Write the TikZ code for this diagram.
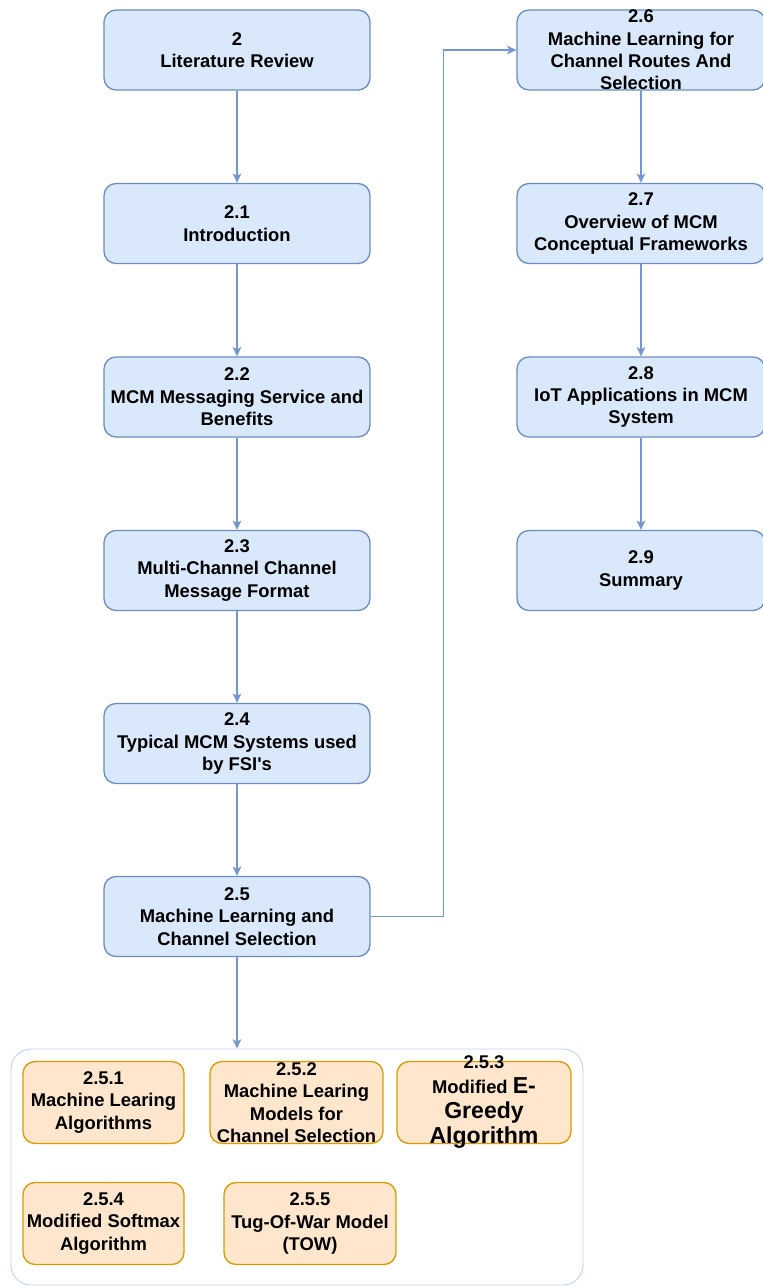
\documentclass[tikz,border=0pt]{standalone}
\usepackage{fontspec}
\setmainfont{Liberation Sans}
\usetikzlibrary{arrows.meta}
\definecolor{bfill}{HTML}{DAE8FC}
\definecolor{bline}{HTML}{6C8EBF}
\definecolor{eline}{HTML}{7597CC}
\definecolor{ofill}{HTML}{FFE6CC}
\definecolor{oline}{HTML}{D79B00}
\definecolor{gline}{HTML}{BFD2F0}
\newcommand{\bigtxt}{\fontsize{17.3}{18.75}\selectfont}

\begin{document}
\begin{tikzpicture}[x=0.75pt,y=-0.75pt,
  bluebox/.style={draw=bline, fill=bfill, line width=1pt, rounded corners=9pt,
    minimum width=199.5pt, minimum height=60pt, inner sep=0pt},
  rbluebox/.style={bluebox, minimum width=186pt},
  orbox/.style={draw=oline, fill=ofill, line width=1pt, rounded corners=9pt,
    minimum height=61.5pt, inner sep=0pt},
  groupbox/.style={draw=gline, line width=0.7pt, rounded corners=15pt,
    minimum width=429pt, minimum height=177pt, inner sep=0pt},
  txt/.style={align=center, inner sep=0pt,
    font=\bfseries\fontsize{13.8}{16.8}\selectfont},
  arr/.style={draw=eline, line width=0.9pt,
    -{Stealth[length=7pt,width=6.5pt,inset=1.8pt]}}
]
\useasboundingbox (0,0) rectangle (763,1286);

% left column
\node[bluebox] (n2)  at (237,50) {};
\node[txt] (t2)  at (n2)  {2\\Literature Review};
\node[bluebox] (n21) at (237,223.5) {};
\node[txt] (t21) at (n21) {2.1\\Introduction};
\node[bluebox] (n22) at (237,397) {};
\node[txt] (t22) at (n22) {2.2\\MCM Messaging Service and\\Benefits};
\node[bluebox] (n23) at (237,570.5) {};
\node[txt] (t23) at (n23) {2.3\\Multi-Channel Channel\\Message Format};
\node[bluebox] (n24) at (237,743.5) {};
\node[txt] (t24) at (n24) {2.4\\Typical MCM Systems used\\by FSI\textquotesingle s};
\node[bluebox] (n25) at (237,916.5) {};
\node[txt] (t25) at (n25) {2.5\\Machine Learning and\\Channel Selection};

% right column
\node[rbluebox] (n26) at (641,50) {};
\node[txt] (t26) at (n26) {2.6\\Machine Learning for\\Channel Routes And\\Selection};
\node[rbluebox] (n27) at (641,223.5) {};
\node[txt] (t27) at (n27) {2.7\\Overview of MCM\\Conceptual Frameworks};
\node[rbluebox] (n28) at (641,397) {};
\node[txt] (t28) at (n28) {2.8\\IoT Applications in MCM\\System};
\node[rbluebox] (n29) at (641,570.5) {};
\node[txt] (t29) at (n29) {2.9\\Summary};

% group of sub-sections of 2.5
\node[groupbox] (grp) at (297,1167) {};
\node[orbox, minimum width=120.75pt] (n251) at (103.5,1102.5) {};
\node[txt] (t251) at (n251) {2.5.1\\Machine Learing\\Algorithms};
\node[orbox, minimum width=129.75pt] (n252) at (296.5,1102.5) {};
\node[txt] (t252) at (n252) {2.5.2\\Machine Learing\\Models for\\Channel Selection};
\node[orbox, minimum width=130.5pt] (n253) at (484,1102.5) {};
\node[txt, font=\bfseries\fontsize{13.8}{18.75}\selectfont] (t253) at (n253)
  {2.5.3\\Modified {\bigtxt E-}\\{\bigtxt Greedy}\\{\bigtxt Algorithm}};
\node[orbox, minimum width=120.75pt] (n254) at (103.5,1223.5) {};
\node[txt] (t254) at (n254) {2.5.4\\Modified Softmax\\Algorithm};
\node[orbox, minimum width=129pt] (n255) at (310,1223.5) {};
\node[txt] (t255) at (n255) {2.5.5\\Tug-Of-War Model\\(TOW)};

% connectors
\draw[arr] (n2)  -- (n21);
\draw[arr] (n21) -- (n22);
\draw[arr] (n22) -- (n23);
\draw[arr] (n23) -- (n24);
\draw[arr] (n24) -- (n25);
\draw[arr] (n25.south) -- (n25.south |- grp.north);
\draw[arr] (n25.east) -- ++(73,0) |- (n26.west);
\draw[arr] (n26) -- (n27);
\draw[arr] (n27) -- (n28);
\draw[arr] (n28) -- (n29);
\end{tikzpicture}
\end{document}
